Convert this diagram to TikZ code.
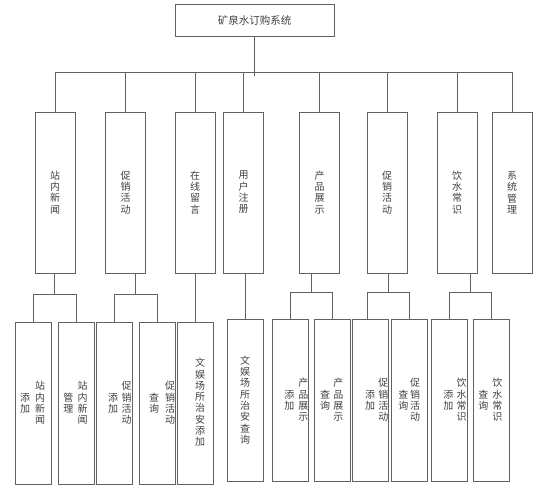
\documentclass[tikz,border=0pt]{standalone}
\usepackage{fontspec}
\setmainfont{Noto Sans CJK SC}
\usetikzlibrary{calc}
\begin{document}
\begin{tikzpicture}[x=1pt,y=-1pt,
    link/.style={draw=black!62,line width=0.85pt},
    topbox/.style={link,minimum width=159pt,minimum height=32pt,inner sep=0pt,
      text=black!75,font=\fontsize{10.5}{12}\selectfont},
    midbox/.style={link,minimum width=40pt,minimum height=161pt,inner sep=0pt,
      align=center,text=black!75,font=\fontsize{10}{11.3}\selectfont},
    lowbox/.style={link,minimum width=36pt,minimum height=162pt,inner sep=0pt},
    vtext/.style={inner sep=0pt,align=center,text=black!75,
      font=\fontsize{10}{11.3}\selectfont}]
    \useasboundingbox (0,0) rectangle (542,489);
    % top
    \node[topbox] (sys) at (254.5,20) {矿泉水订购系统};
    % second level
    \node[midbox] (news) at (55,192.5) {站\\内\\新\\闻};
    \node[midbox] (promo) at (125.5,192.5) {促\\销\\活\\动};
    \node[midbox] (msg) at (195,192.5) {在\\线\\留\\言};
    \node[midbox] (reg) at (243.5,192.5) {用\\户\\注\\册};
    \node[midbox] (prod) at (319.5,192.5) {产\\品\\展\\示};
    \node[midbox] (promob) at (387,192.5) {促\\销\\活\\动};
    \node[midbox] (water) at (457,192.5) {饮\\水\\常\\识};
    \node[midbox] (admin) at (512,192.5) {系\\统\\管\\理};
    % third level
    \node[lowbox] (newsadd) at (33.5,403) {};
    \node[lowbox] (newsman) at (76,403) {};
    \node[lowbox] (promoadd) at (114.5,403) {};
    \node[lowbox] (promoqry) at (157.2,403) {};
    \node[lowbox] (ent) at (195.9,403) {};
    \node[lowbox] (entqry) at (245.3,400) {};
    \node[lowbox] (prodadd) at (290.2,400) {};
    \node[lowbox] (prodqry) at (332.3,400) {};
    \node[lowbox] (promobadd) at (370.3,400) {};
    \node[lowbox] (promobqry) at (409.7,400) {};
    \node[lowbox] (wateradd) at (449.5,400) {};
    \node[lowbox] (waterqry) at (491.3,400) {};
    % third level texts
    \node[vtext] (newsadda) at (40,403) {站\\内\\新\\闻};
    \node[vtext] (newsaddb) at (25,403) {添\\加};
    \node[vtext] (newsmana) at (82.7,403) {站\\内\\新\\闻};
    \node[vtext] (newsmanb) at (68.3,403) {管\\理};
    \node[vtext] (promoadda) at (126.7,403) {促\\销\\活\\动};
    \node[vtext] (promoaddb) at (113,403) {添\\加};
    \node[vtext] (promoqrya) at (170,403) {促\\销\\活\\动};
    \node[vtext] (promoqryb) at (154,403) {查\\询};
    \node[vtext] (enta) at (200,402.5) {文\\娱\\场\\所\\治\\安\\添\\加};
    \node[vtext] (entqrya) at (245,400) {文\\娱\\场\\所\\治\\安\\查\\询};
    \node[vtext] (prodadda) at (303.3,400) {产\\品\\展\\示};
    \node[vtext] (prodaddb) at (289.3,400) {添\\加};
    \node[vtext] (prodqrya) at (338.3,400) {产\\品\\展\\示};
    \node[vtext] (prodqryb) at (325,400) {查\\询};
    \node[vtext] (promobadda) at (383.3,400) {促\\销\\活\\动};
    \node[vtext] (promobaddb) at (370,400) {添\\加};
    \node[vtext] (promobqrya) at (415,400) {促\\销\\活\\动};
    \node[vtext] (promobqryb) at (403.3,400) {查\\询};
    \node[vtext] (wateradda) at (461.7,400) {饮\\水\\常\\识};
    \node[vtext] (wateraddb) at (448.3,400) {添\\加};
    \node[vtext] (waterqrya) at (497.3,400) {饮\\水\\常\\识};
    \node[vtext] (waterqryb) at (483.3,400) {查\\询};
    % bus under the top box
    \coordinate (bus) at (0,72);
    \coordinate (stub) at (0,76);
    \draw[link] (sys.south) -- (sys.south |- stub);
    \draw[link] (news.north) |- (bus -| admin.north) -- (admin.north);
    \draw[link] (promo.north) -- (promo.north |- bus);
    \draw[link] (msg.north) -- (msg.north |- bus);
    \draw[link] (reg.north) -- (reg.north |- bus);
    \draw[link] (prod.north) -- (prod.north |- bus);
    \draw[link] (promob.north) -- (promob.north |- bus);
    \draw[link] (water.north) -- (water.north |- bus);
    % brackets under the second level
    \coordinate (k1) at (0,294);
    \coordinate (k2) at (0,292.5);
    \coordinate (pbx) at ([xshift=-3pt]promobadd.north);
    \coordinate (m1) at ($(newsadd.north)!.5!(newsman.north)$);
    \coordinate (m2) at ($(promoadd.north)!.5!(promoqry.north)$);
    \coordinate (m5) at ($(prodadd.north)!.5!(prodqry.north)$);
    \coordinate (m6) at ($(pbx)!.5!(promobqry.north)$);
    \coordinate (m7) at ($(wateradd.north)!.5!(waterqry.north)$);
    \draw[link] (newsadd.north) |- (k1 -| newsman.north) -- (newsman.north);
    \draw[link] (news.south -| m1) -- (m1 |- k1);
    \draw[link] (promoadd.north) |- (k1 -| promoqry.north) -- (promoqry.north);
    \draw[link] (promo.south -| m2) -- (m2 |- k1);
    \draw[link] (ent.north) -- (ent.north |- msg.south);
    \draw[link] (entqry.north) -- (entqry.north |- reg.south);
    \draw[link] (prodadd.north) |- (k2 -| prodqry.north) -- (prodqry.north);
    \draw[link] (prod.south -| m5) -- (m5 |- k2);
    \draw[link] (pbx) |- (k2 -| promobqry.north) -- (promobqry.north);
    \draw[link] (promob.south -| m6) -- (m6 |- k2);
    \draw[link] (wateradd.north) |- (k2 -| waterqry.north) -- (waterqry.north);
    \draw[link] (water.south -| m7) -- (m7 |- k2);
\end{tikzpicture}
\end{document}
